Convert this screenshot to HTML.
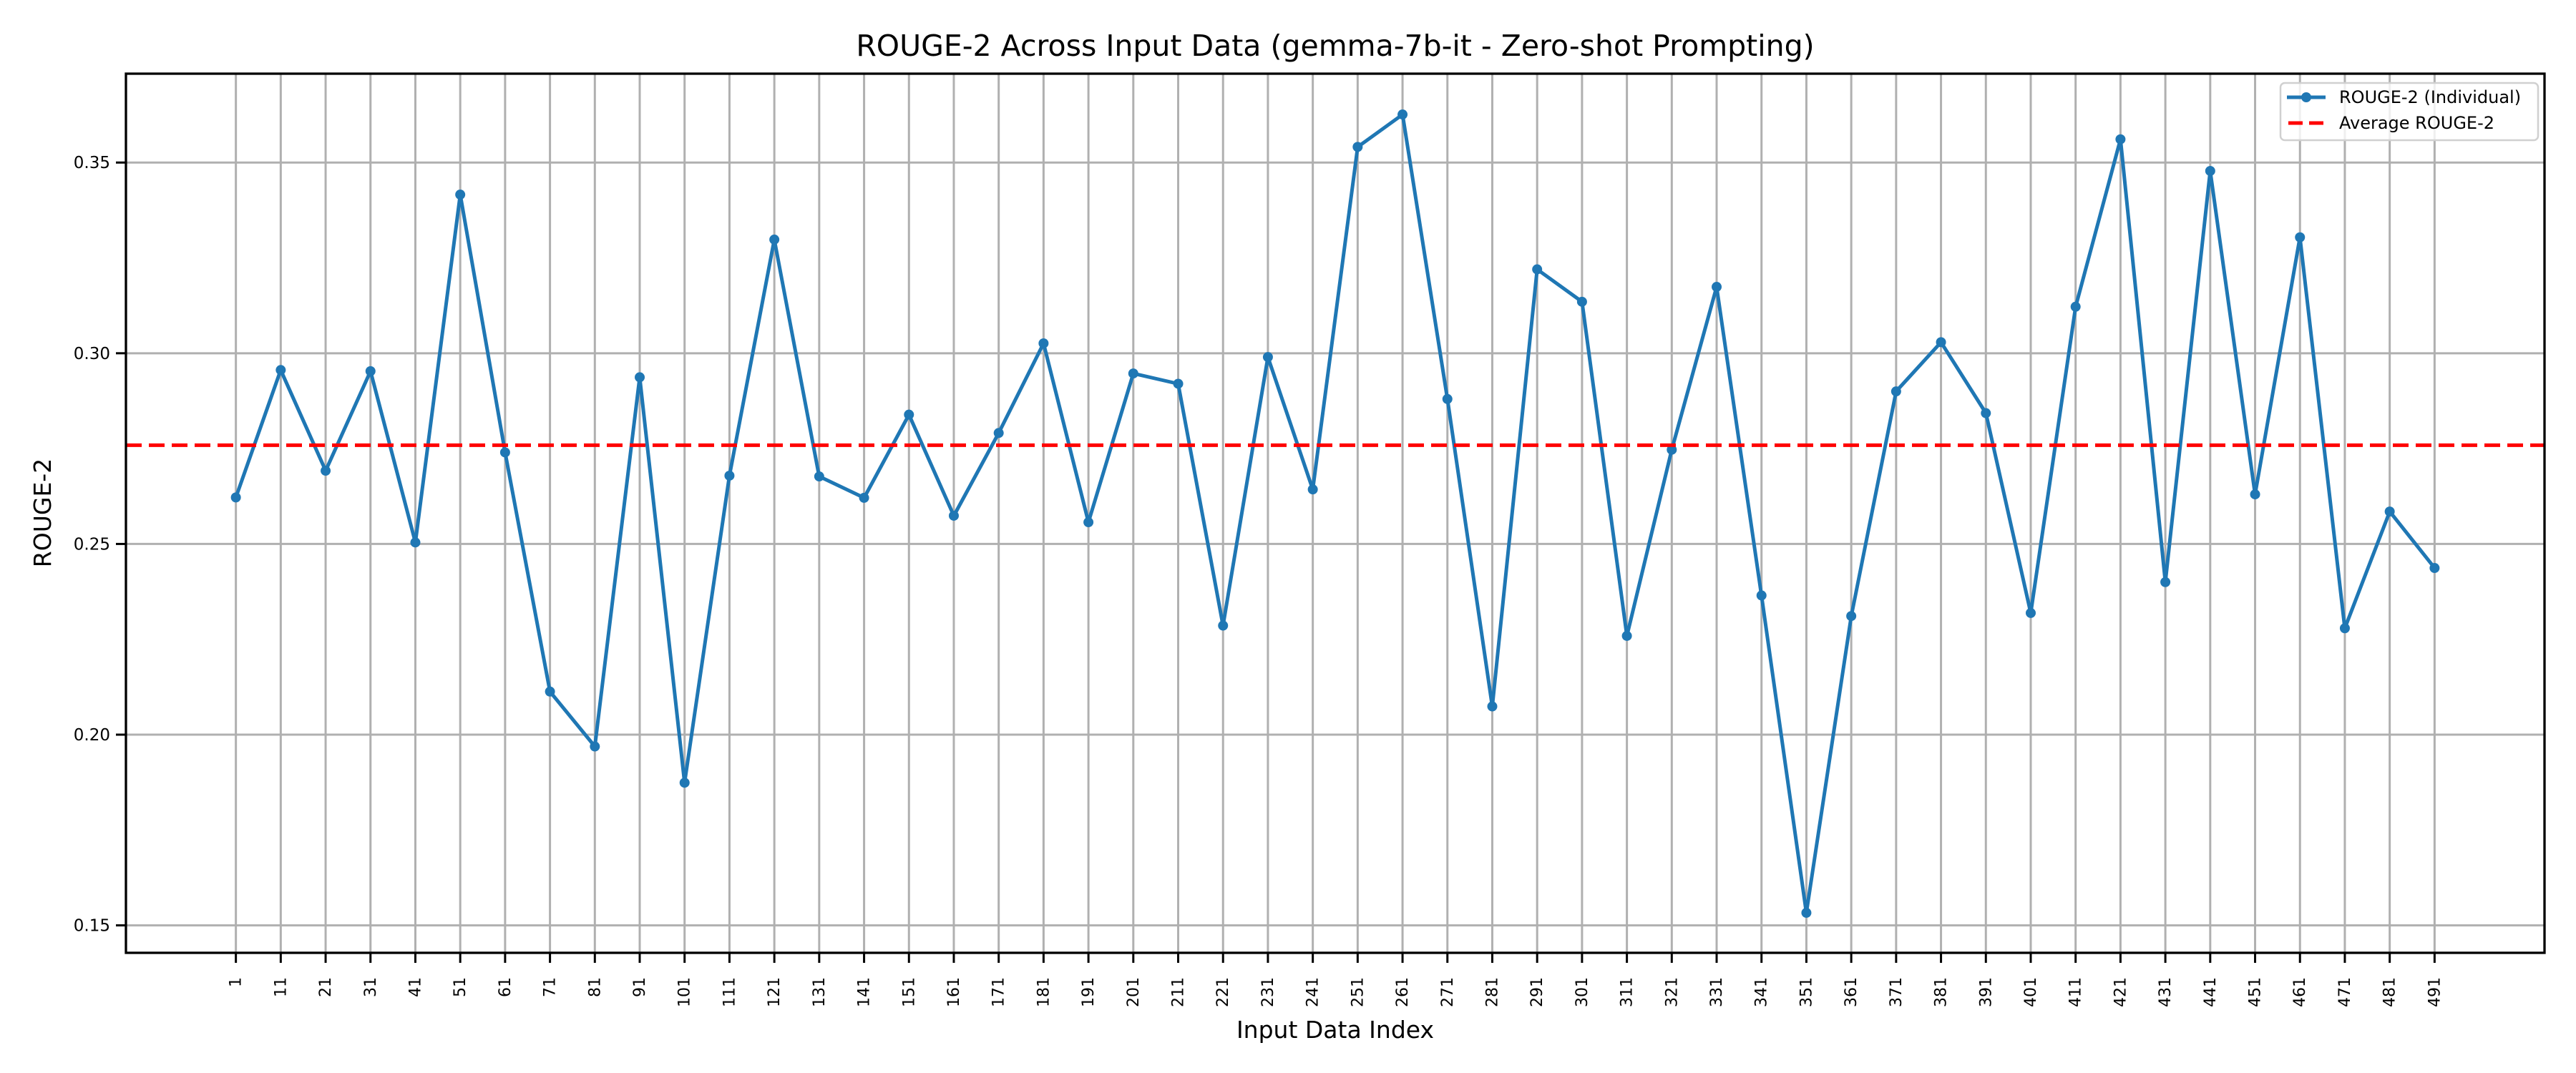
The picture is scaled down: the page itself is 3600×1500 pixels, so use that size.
<!DOCTYPE html>
<html><head><meta charset="utf-8"><style>
html,body{margin:0;padding:0;background:#fff;}
svg{display:block;font-family:"DejaVu Sans","Liberation Sans",sans-serif;}
</style></head><body>
<svg id="chart" width="3600" height="1500" viewBox="0 0 3600 1500" xmlns="http://www.w3.org/2000/svg">
<rect width="3600" height="1500" fill="#fff"/>
<text x="1866" y="78" font-size="41" text-anchor="middle" fill="#000">ROUGE-2 Across Input Data (gemma-7b-it - Zero-shot Prompting)</text>
<g id="grid"></g>
<g id="marks"></g>
<rect x="176" y="103" width="3380" height="1229" fill="none" stroke="#000" stroke-width="3.3"/>
<g id="axes"></g>
<text x="1866" y="1451" font-size="33" text-anchor="middle" fill="#000">Input Data Index</text>
<text x="0" y="0" transform="translate(71,717) rotate(-90)" font-size="33" text-anchor="middle" fill="#000">ROUGE-2</text>
<g>
<rect x="3187" y="116" width="360" height="80" rx="6" fill="#fff" fill-opacity="0.8" stroke="#d0d0d0" stroke-width="2.5"/>
<g>
<line x1="3196" y1="136" x2="3250" y2="136" stroke="#1f77b4" stroke-width="5"/>
<circle cx="3223" cy="136" r="7" fill="#1f77b4"/>
<text x="3269" y="144" font-size="24" fill="#000">ROUGE-2 (Individual)</text>
</g>
<g>
<line x1="3198" y1="172" x2="3250" y2="172" stroke="#ff0000" stroke-width="5" stroke-dasharray="20,9"/>
<text x="3269" y="180" font-size="24" fill="#000">Average ROUGE-2</text>
</g>
</g>
</svg>
<script>
const indices = [1,11,21,31,41,51,61,71,81,91,101,111,121,131,141,151,161,171,181,191,201,211,221,231,241,251,261,271,281,291,301,311,321,331,341,351,361,371,381,391,401,411,421,431,441,451,461,471,481,491];
const rougeValues = [0.2622,0.2956,0.2692,0.2953,0.2504,0.3416,0.2740,0.2113,0.1969,0.2937,0.1874,0.2679,0.3298,0.2677,0.2621,0.2839,0.2574,0.2791,0.3026,0.2557,0.2947,0.2920,0.2286,0.2990,0.2643,0.3541,0.3626,0.2880,0.2074,0.3220,0.3135,0.2259,0.2747,0.3174,0.2365,0.1533,0.2311,0.2900,0.3029,0.2843,0.2319,0.3122,0.3561,0.2400,0.3478,0.2630,0.3304,0.2279,0.2585,0.2437];
const averageValue = [0.2759];
const yTicks = [0.15,0.20,0.25,0.30,0.35];
const yTickLabels = ["0.15","0.20","0.25","0.30","0.35"];

const NS = "http://www.w3.org/2000/svg";
const L = 176, R = 3556, T = 103, B = 1332;
const xMin = -23.5, xMax = 515.5, yMin = 0.1428, yMax = 0.3733;
function xs(v){ return L + (v - xMin) / (xMax - xMin) * (R - L); }
function ys(v){ return B - (v - yMin) / (yMax - yMin) * (B - T); }
function mk(tag, attrs, parent){
  const e = document.createElementNS(NS, tag);
  for (const k in attrs) e.setAttribute(k, attrs[k]);
  parent.appendChild(e); return e;
}
const grid = document.getElementById('grid');
const marks = document.getElementById('marks');
const axes = document.getElementById('axes');

indices.forEach(function(ix){
  const x = xs(ix);
  const g = mk('line', {x1:x, y1:T, x2:x, y2:B, stroke:'#b0b0b0', 'stroke-width':3}, grid);
  
  
  const t = mk('line', {x1:x, y1:B, x2:x, y2:B+14, stroke:'#000', 'stroke-width':3}, axes);
  
  
  const lb = mk('text', {x:0, y:0, transform:'translate(' + (x+7) + ',1366) rotate(-90)', 'font-size':22, 'text-anchor':'end', fill:'#000'}, axes);
  lb.textContent = String(ix);
  
  
});
yTicks.forEach(function(v, i){
  const y = ys(v);
  const g = mk('line', {x1:L, y1:y, x2:R, y2:y, stroke:'#b0b0b0', 'stroke-width':3}, grid);
  
  
  const t = mk('line', {x1:L-14, y1:y, x2:L, y2:y, stroke:'#000', 'stroke-width':3}, axes);
  
  
  const lb = mk('text', {x:L-22, y:y+8, 'font-size':23, 'text-anchor':'end', fill:'#000'}, axes);
  lb.textContent = yTickLabels[i];
  
  
});

const pts = indices.map(function(ix, i){ return xs(ix).toFixed(1) + ',' + ys(rougeValues[i]).toFixed(1); }).join(' ');
const line = mk('polyline', {points:pts, fill:'none', stroke:'#1f77b4', 'stroke-width':5, 'stroke-linejoin':'round'}, marks);


indices.forEach(function(ix, i){
  const c = mk('circle', {cx:xs(ix), cy:ys(rougeValues[i]), r:7, fill:'#1f77b4'}, marks);
  
  
});
const avg = mk('line', {x1:L, y1:ys(averageValue[0]), x2:R, y2:ys(averageValue[0]), stroke:'#ff0000', 'stroke-width':5, 'stroke-dasharray':'22,10'}, marks);


</script>
</body></html>
